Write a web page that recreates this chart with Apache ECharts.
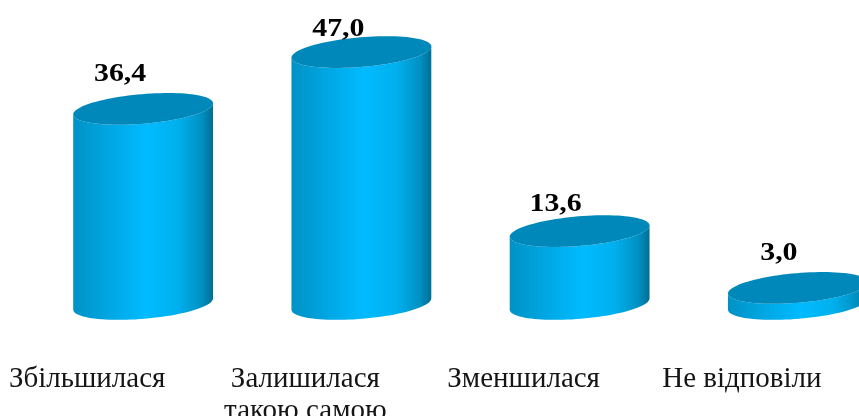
<!DOCTYPE html>
<html><head><meta charset="utf-8">
<style>html,body{margin:0;padding:0;background:#fff}#c{width:859px;height:416px}</style>
<script src="https://cdn.jsdelivr.net/npm/echarts@6/dist/echarts.min.js"></script>
</head><body><div id="c"></div>
<script>
const categories = ['Збільшилася', 'Залишилася\nтакою самою', 'Зменшилася', 'Не відповіли'];
const values = [36.4, 47.0, 13.6, 3.0];
const valueLabels = ['36,4', '47,0', '13,6', '3,0'];
const labelNudge = [[-23,-35],[-23,-23],[-24,-27],[-19,-35]];

const TILT = 4.8 * Math.PI / 180, BAND = 0.643, MINOR = 14.8;
function ring(cx, cy, a, b, from, to, n) {
  const pts = [];
  for (let i = 0; i <= n; i++) {
    const t = from + (to - from) * i / n;
    pts.push([cx + a*Math.cos(t)*Math.cos(TILT) + b*Math.sin(t)*Math.sin(TILT),
              cy - a*Math.cos(t)*Math.sin(TILT) + b*Math.sin(t)*Math.cos(TILT)]);
  }
  return pts;
}
const chart = echarts.init(document.getElementById('c'), null, {renderer:'canvas'});
chart.setOption({
  animation:false,
  backgroundColor:'#fff',
  grid:{left:34,right:-48,top:36,bottom:112,containLabel:false,outerBoundsMode:'none'},
  xAxis:{type:'category',data:categories,axisLine:{show:false},axisTick:{show:false},
    axisLabel:{interval:0,margin:59,padding:[0,112,0,0],lineHeight:32,color:'#151515',
      fontFamily:'Liberation Serif',fontSize:29,verticalAlign:'top',hideOverlap:false,overflow:'none'}},
  yAxis:{type:'value',min:0,max:50,show:false,splitLine:{show:false}},
  series:[{
    type:'custom',
    clip:false,
    data:values.map((v,i)=>[i,v]),
    renderItem(params,api){
      const i = api.value(0), top = api.coord([i,api.value(1)]), base = api.coord([i,0]);
      const a = api.size([1,0])[0]*BAND/2, b = MINOR, cx = top[0];
      const lower = ring(cx,base[1],a,b,Math.PI,0,48);
      const upper = ring(cx,top[1],a,b,0,Math.PI,48);
      const nudge = labelNudge[i];
      return {type:'group',children:[
        {type:'polygon',shape:{points:lower.concat(upper)},style:{
          fill:new echarts.graphic.LinearGradient(0,0,1,0,[
            {offset:0,color:'#0092c6'},{offset:.25,color:'#00a6e2'},
            {offset:.52,color:'#00bbff'},{offset:.75,color:'#00b0ee'},
            {offset:.92,color:'#0090c2'},{offset:1,color:'#006e94'}])}},
        {type:'polygon',shape:{points:ring(cx,top[1],a,b,0,Math.PI*2,96)},style:{fill:'#0088ba'}},
        {type:'text',x:cx+nudge[0],y:top[1]+nudge[1],scaleX:1.15,
          style:{text:valueLabels[i],font:'bold 26px "Liberation Serif"',fill:'#000',align:'center',verticalAlign:'middle'}}
      ]};
    }
  }]
});
</script></body></html>
